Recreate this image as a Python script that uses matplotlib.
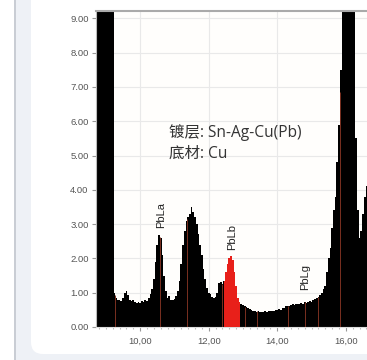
import numpy as np
import matplotlib
matplotlib.use("Agg")
import matplotlib.pyplot as plt
from matplotlib.patches import Rectangle, FancyBboxPatch
from matplotlib.ticker import MultipleLocator, FixedLocator

plt.rcParams['font.family'] = ['Noto Sans CJK SC', 'DejaVu Sans']

# spectrum (keV, counts), 0.05 keV steps from 8.70
start_kev = 8.70
step_kev = 0.05
counts = [
    12, 12, 12, 12, 12, 12, 12, 12, 12, 12,            # 8.70 - 9.15
    12, 1.0, 0.85, 0.78, 0.80, 0.75, 0.85, 0.98, 1.05, 0.92,  # 9.20 - 9.65
    0.80, 0.75, 0.78, 0.72, 0.70, 0.74, 0.70, 0.75, 0.72, 0.78,  # 9.70 - 10.15
    0.76, 0.85, 0.95, 1.10, 1.40, 1.90, 2.40, 2.68, 2.60, 2.10,  # 10.20 - 10.65
    1.50, 1.05, 0.85, 0.90, 0.80, 0.78, 0.82, 0.90, 1.05, 1.35,  # 10.70 - 11.15
    1.85, 2.40, 2.80, 3.10, 3.20, 3.30, 3.50, 3.35, 3.20, 3.00,  # 11.20 - 11.65
    2.70, 2.40, 2.10, 1.70, 1.40, 1.15, 1.00, 0.95, 0.88, 0.85,  # 11.70 - 12.15
    0.88, 1.00, 1.28, 1.30, 1.25, 1.35, 1.60, 1.85, 2.00, 2.07,  # 12.20 - 12.65
    1.95, 1.60, 1.20, 0.85, 0.72, 0.66, 0.64, 0.60, 0.58, 0.55,  # 12.70 - 13.15
    0.52, 0.50, 0.48, 0.47, 0.45, 0.46, 0.44, 0.45, 0.44, 0.46,  # 13.20 - 13.65
    0.45, 0.47, 0.46, 0.48, 0.47, 0.50, 0.49, 0.52, 0.50, 0.55,  # 13.70 - 14.15
    0.56, 0.60, 0.62, 0.60, 0.64, 0.66, 0.63, 0.67, 0.68, 0.66,  # 14.20 - 14.65
    0.70, 0.68, 0.72, 0.70, 0.74, 0.76, 0.74, 0.80, 0.82, 0.85,  # 14.70 - 15.15
    0.88, 0.93, 1.00, 1.10, 1.20, 1.60, 2.00, 2.30, 2.90, 3.40,  # 15.20 - 15.65
    3.80, 4.80, 5.90, 7.50, 12, 12, 12, 12, 12, 12,      # 15.70 - 16.15
    12, 11, 5.5, 3.4, 2.6, 2.8, 3.3, 3.8, 4.1, 4.3,      # 16.20 - 16.65
]
energy = start_kev + step_kev * np.arange(len(counts))
counts = np.array(counts)

# PbLb region of interest (red)
roi_lo, roi_hi = 12.45, 12.92

# thin ROI marker lines
marker_kev = [9.27, 10.58, 11.37, 12.39, 13.06, 13.41, 14.31, 14.81, 15.19, 15.83]

peak_names = ["PbLa", "PbLb", "PbLg"]
peak_kev = [10.61, 12.68, 14.81]
peak_label_y = [2.90, 2.25, 1.08]

yticks = [0, 1, 2, 3, 4, 5, 6, 7, 8, 9]
xticks = [10, 12, 14, 16]

W, H = 367, 360
fig = plt.figure(figsize=(W / 100, H / 100), dpi=100)
fig.patch.set_facecolor("white")

# page background and card (drawn below the axes)
fig.patches.append(Rectangle((16 / 100, 0), 4, 4, transform=fig.dpi_scale_trans,
                             facecolor="#eef1f6", edgecolor="none", zorder=-3))
fig.patches.append(Rectangle((14.5 / 100, 0), 1.5 / 100, 4, transform=fig.dpi_scale_trans,
                             facecolor="#c9cdd4", edgecolor="none", zorder=-3))
fig.patches.append(FancyBboxPatch((31 / 100, (H - 354) / 100), 4, 4,
                                  boxstyle="round,pad=0,rounding_size=0.12",
                                  transform=fig.dpi_scale_trans,
                                  facecolor="white", edgecolor="none", zorder=-2))

left_px, bottom_px, top_px = 95.5, 327, 11
ax = fig.add_axes([left_px / W, (H - bottom_px) / H, (W - left_px) / W, (bottom_px - top_px) / H])
ax.set_facecolor("#fffefc")
xmin = 8.70
xmax = xmin + (W - left_px) / 34.3
ax.set_xlim(xmin, xmax)
ax.set_ylim(0, (bottom_px - top_px) / 34.3)

ax.fill_between(energy, 0, counts, step="mid", color="black", lw=0, zorder=2)
roi = (energy >= roi_lo - 0.001) & (energy <= roi_hi)
ax.fill_between(energy[roi], 0, counts[roi], step="mid", color="#e8201a", lw=0, zorder=3)

for m in marker_kev:
    h = np.interp(m, energy, counts)
    ax.vlines(m, 0, h, color="#7a3020", lw=0.7, zorder=4)

for name, xk, yk in zip(peak_names, peak_kev, peak_label_y):
    ax.text(xk, yk, name, rotation=90, ha="center", va="bottom",
            fontsize=8, color="#222222", family=["Liberation Sans", "DejaVu Sans"], zorder=5)

note_font = ["Open Sans", "Noto Sans CJK SC"]
ax.text(10.83, 5.66, "镀层: Sn-Ag-Cu(Pb)", fontsize=11.2, color="#333333",
        family=note_font, ha="left", va="center", zorder=5)
ax.text(10.83, 5.04, "底材: Cu", fontsize=11.2, color="#333333",
        family=note_font, ha="left", va="center", zorder=5)

ax.yaxis.set_major_locator(FixedLocator(yticks))
ax.set_yticklabels(["%.2f" % v for v in yticks])
ax.xaxis.set_major_locator(FixedLocator(xticks))
ax.set_xticklabels([("%.2f" % v).replace(".", ",") for v in xticks])
ax.xaxis.set_minor_locator(MultipleLocator(0.2))

ax.grid(True, which="major", color="#e9e9e9", lw=0.8, zorder=0)
ax.set_axisbelow(True)

for lab in ax.get_xticklabels() + ax.get_yticklabels():
    lab.set_family(["Liberation Sans", "DejaVu Sans"])
ax.tick_params(axis="both", which="major", labelsize=6.8, labelcolor="#555555",
               color="#999999", length=3, width=0.8)
ax.tick_params(axis="x", which="major", pad=4)
ax.tick_params(axis="y", which="major", pad=2)
ax.tick_params(axis="x", which="minor", length=1.5, color="#bbbbbb", width=0.8)

ax.spines["right"].set_visible(False)
ax.spines["top"].set_color("#aaaaaa")
ax.spines["top"].set_linewidth(1.5)
ax.spines["left"].set_color("#bbbbbb")
ax.spines["bottom"].set_color("#dddddd")

fig.savefig("out.png", dpi=100)
